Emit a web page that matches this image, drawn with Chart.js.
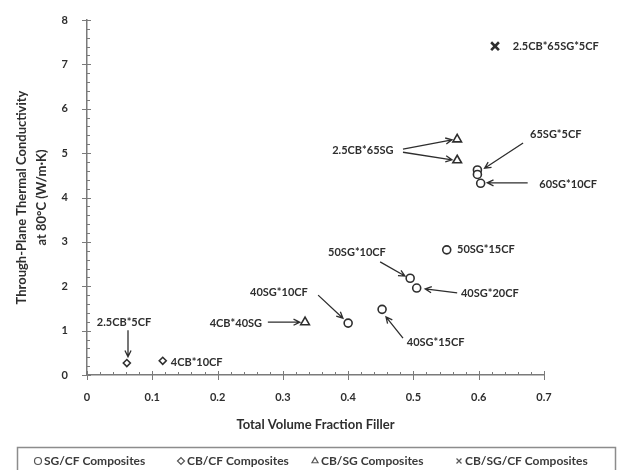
<!DOCTYPE html>
<html>
<head>
<meta charset="utf-8">
<script src="https://cdn.jsdelivr.net/npm/chart.js@4"></script>
<style>
  html, body { margin: 0; padding: 0; background: #fff; }
  #wrap { width: 620px; height: 470px; }
</style>
</head>
<body>
<div id="wrap"><canvas id="conductivity" width="620" height="470"></canvas></div>
<script>
// series values (x = total volume fraction filler, y = conductivity W/m·K)
const sgcfX = [0.400, 0.452, 0.495, 0.505, 0.551, 0.598, 0.598, 0.603];
const sgcfY = [1.17, 1.48, 2.18, 1.96, 2.82, 4.62, 4.52, 4.32];
const cbcfX = [0.061, 0.116];
const cbcfY = [0.27, 0.32];
const cbsgX = [0.334, 0.567, 0.567];
const cbsgY = [1.19, 5.31, 4.84];
const cbsgcfX = [0.625];
const cbsgcfY = [7.41];

const seriesNames = ['SG/CF Composites', 'CB/CF Composites', 'CB/SG Composites', 'CB/SG/CF Composites'];
const xTicks = [0, 0.1, 0.2, 0.3, 0.4, 0.5, 0.6, 0.7];
const yTicks = [0, 1, 2, 3, 4, 5, 6, 7, 8];

// annotation labels (data coords of text centre)
const noteText = ['2.5CB*65SG*5CF', '2.5CB*65SG', '65SG*5CF', '60SG*10CF', '50SG*15CF',
  '50SG*10CF', '40SG*20CF', '40SG*15CF', '40SG*10CF', '4CB*40SG', '2.5CB*5CF', '4CB*10CF'];
const noteX = [0.718, 0.4226, 0.718, 0.737, 0.611, 0.4135, 0.617, 0.534, 0.294, 0.228, 0.0567, 0.168];
const noteY = [7.41, 5.07, 5.41, 4.30, 2.82, 2.77, 1.83, 0.74, 1.87, 1.17, 1.19, 0.29];

// arrows: from (x1,y1) to head at (x2,y2)
const arrowX1 = [0.484, 0.484, 0.668, 0.675, 0.449, 0.567, 0.484, 0.354, 0.277, 0.0628];
const arrowY1 = [5.09, 5.02, 5.23, 4.33, 2.55, 1.85, 0.83, 1.80, 1.19, 1.01];
const arrowX2 = [0.559, 0.559, 0.609, 0.613, 0.487, 0.518, 0.458, 0.392, 0.326, 0.0628];
const arrowY2 = [5.30, 4.85, 4.66, 4.33, 2.23, 1.94, 1.31, 1.28, 1.19, 0.41];

const ink = '#2e2e2e';
const axisGray = '#7a7a7a';

function pts(xs, ys) {
  return xs.map((x, i) => ({x: x, y: ys[i]}));
}

const notesPlugin = {
  id: 'notes',
  afterDatasetsDraw(chart) {
    const ctx = chart.ctx;
    const xs = chart.scales.x, ys = chart.scales.y;
    ctx.save();
    // minor and major tick marks
    ctx.strokeStyle = axisGray;
    ctx.lineWidth = 1;
    const y0 = ys.getPixelForValue(0);
    const x0 = xs.getPixelForValue(0);
    for (let i = 0; i <= 35; i++) {
      const px = Math.round(xs.getPixelForValue(i * 0.02)) + 0.5;
      ctx.beginPath();
      if (i % 5 === 0) { ctx.moveTo(px, y0 - 4); ctx.lineTo(px, y0 + 5); }
      else { ctx.moveTo(px, y0 - 3); ctx.lineTo(px, y0); }
      ctx.stroke();
    }
    for (let i = 0; i <= 40; i++) {
      const py = Math.round(ys.getPixelForValue(i * 0.2)) + 0.5;
      ctx.beginPath();
      if (i % 5 === 0) { ctx.moveTo(x0 - 5, py); ctx.lineTo(x0 + 4, py); }
      else { ctx.moveTo(x0, py); ctx.lineTo(x0 + 3, py); }
      ctx.stroke();
    }
    // label text
    ctx.fillStyle = ink;
    ctx.font = 'bold 11px Lato';
    ctx.textAlign = 'center';
    ctx.textBaseline = 'middle';
    noteText.forEach((t, i) => {
      ctx.fillText(t, xs.getPixelForValue(noteX[i]), ys.getPixelForValue(noteY[i]));
    });
    // arrows
    ctx.strokeStyle = ink;
    ctx.lineWidth = 1.3;
    arrowX1.forEach((ax, i) => {
      const sx = xs.getPixelForValue(ax), sy = ys.getPixelForValue(arrowY1[i]);
      const ex = xs.getPixelForValue(arrowX2[i]), ey = ys.getPixelForValue(arrowY2[i]);
      const a = Math.atan2(ey - sy, ex - sx);
      ctx.beginPath();
      ctx.moveTo(sx, sy); ctx.lineTo(ex, ey);
      ctx.moveTo(ex - 7 * Math.cos(a - 0.45), ey - 7 * Math.sin(a - 0.45));
      ctx.lineTo(ex, ey);
      ctx.lineTo(ex - 7 * Math.cos(a + 0.45), ey - 7 * Math.sin(a + 0.45));
      ctx.stroke();
    });
    ctx.restore();
  },
  afterDraw(chart) {
    // boxed legend along the bottom
    const ctx = chart.ctx;
    ctx.save();
    ctx.strokeStyle = '#8c8c8c';
    ctx.lineWidth = 1.5;
    ctx.strokeRect(17.5, 447.5, 598, 40);
    ctx.font = 'bold 12px Lato';
    ctx.textBaseline = 'middle';
    ctx.textAlign = 'left';
    const styles = ['circle', 'rectRot', 'triangle', 'crossRot'];
    const starts = [34, 177, 311, 455];
    const ly = 461;
    styles.forEach((s, i) => {
      const mx = starts[i] + 4;
      ctx.strokeStyle = '#555';
      ctx.fillStyle = '#fff';
      ctx.lineWidth = 1.2;
      Chart.helpers.drawPoint(ctx, {pointStyle: s, radius: 3.5, borderWidth: 1.2}, mx, ly);
      ctx.fillStyle = '#3a3a3a';
      ctx.fillText(seriesNames[i], mx + 6, ly);
    });
    ctx.restore();
  }
};

const canvas = document.getElementById('conductivity').getContext('2d');
const config = {
  type: 'scatter',
  data: {
    datasets: [
      {label: seriesNames[0], data: pts(sgcfX, sgcfY), pointStyle: 'circle', pointRadius: 4},
      {label: seriesNames[1], data: pts(cbcfX, cbcfY), pointStyle: 'rectRot', pointRadius: 3.5},
      {label: seriesNames[2], data: pts(cbsgX, cbsgY), pointStyle: 'triangle', pointRadius: 5},
      {label: seriesNames[3], data: pts(cbsgcfX, cbsgcfY), pointStyle: 'crossRot', pointRadius: 5.5, borderWidth: 2.6}
    ]
  },
  options: {
    responsive: false,
    animation: false,
    layout: {padding: {left: 0, top: 20, right: 76, bottom: 35}},
    elements: {
      point: {borderColor: ink, backgroundColor: '#fff', borderWidth: 1.6, hoverRadius: 4}
    },
    plugins: {legend: {display: false}, tooltip: {enabled: false}},
    scales: {
      x: {
        type: 'linear', min: 0, max: 0.7,
        afterBuildTicks: s => { s.ticks = xTicks.map(v => ({value: v})); },
        afterFit: s => { s.height = 60; },
        grid: {display: false},
        border: {color: axisGray, width: 1.5},
        ticks: {padding: 8, color: ink, font: {family: 'Lato', size: 11, weight: 'bold'},
          callback: v => String(Math.round(v * 10) / 10)},
        title: {display: true, text: 'Total Volume Fraction Filler', color: ink,
          font: {family: 'Lato', size: 13, weight: 'bold'}, padding: {top: 0, bottom: 2}}
      },
      y: {
        type: 'linear', min: 0, max: 8,
        afterBuildTicks: s => { s.ticks = yTicks.map(v => ({value: v})); },
        afterFit: s => { s.width = 87; },
        grid: {display: false},
        border: {color: axisGray, width: 1.5},
        ticks: {padding: 11, color: ink, font: {family: 'Lato', size: 11, weight: 'bold'}},
        title: {display: true, text: ['Through-Plane Thermal Conductivity', 'at 80\u00b0C (W/m\u00b7K)'], color: ink,
          font: {family: 'Lato', size: 13, weight: 'bold', lineHeight: 1.6}, padding: {top: 11, bottom: 0}}
      }
    }
  },
  plugins: [notesPlugin]
};
var chart = new Chart(canvas, config);
</script>
</body>
</html>
